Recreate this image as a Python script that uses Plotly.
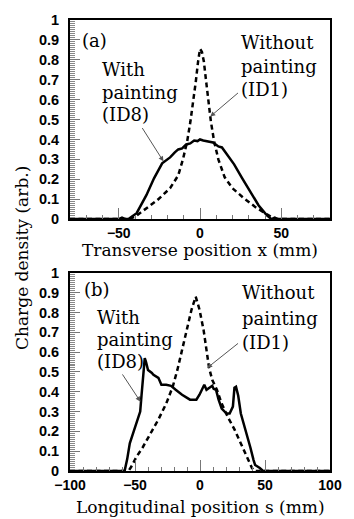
import plotly.graph_objects as go
from plotly.subplots import make_subplots

# Panel (a): transverse charge density profiles
xa_id1 = [-80, -44, -40, -33, -26.3, -18.4, -13.4, -10.5, -7.9, -5.9, -4.1, -2.6, -1.2, 0, 1.2,
          2.4, 3.8, 5.3, 6.7, 8.7, 11.3, 15.2, 20, 27, 35, 42, 46, 80]
ya_id1 = [0, 0, 0.012, 0.055, 0.095, 0.155, 0.22, 0.30, 0.39, 0.49, 0.59, 0.69, 0.79, 0.855, 0.84,
          0.79, 0.69, 0.59, 0.49, 0.39, 0.30, 0.21, 0.155, 0.105, 0.055, 0.02, 0, 0]

xa_id8 = [-80, -50, -48, -46, -44, -39, -33, -28.3, -23.3, -20.5, -18.4, -15.5, -13.4, -11, -8.5,
          -6, -3.6, -1.5, 0, 2, 5.3, 8, 11.3, 13.5, 16.2, 21, 26, 31, 36, 41, 44, 46, 48, 80]
ya_id8 = [0, 0, 0.008, 0, 0, 0.03, 0.12, 0.205, 0.28, 0.295, 0.31, 0.335, 0.35, 0.355, 0.375,
          0.38, 0.395, 0.392, 0.40, 0.395, 0.39, 0.385, 0.365, 0.36, 0.33, 0.275, 0.205, 0.14, 0.07,
          0.02, 0, 0.008, 0, 0]

# Panel (b): longitudinal charge density profiles
xb_id1 = [-100, -56, -54.5, -53, -49, -44, -38, -32, -26, -21, -17.4, -13.8, -10, -6.5, -3.3, -0.4,
          2.8, 5.3, 7, 9.4, 13, 16.7, 21.6, 26.5, 31.4, 36, 40, 42, 100]
yb_id1 = [0, 0, 0.005, 0.02, 0.07, 0.12, 0.19, 0.26, 0.34, 0.425, 0.51, 0.61, 0.71, 0.815, 0.88,
          0.815, 0.71, 0.61, 0.52, 0.46, 0.41, 0.34, 0.27, 0.21, 0.14, 0.07, 0.015, 0, 0]

xb_id8 = [-100, -58, -56, -54, -51, -48, -46, -45, -44, -42.5, -41.5, -40, -37, -35.8, -32, -29.7,
          -26, -22.3, -18.7, -13.8, -7.7, -2.8, -0.4, 3.3, 5, 7, 9.4, 10.5, 12.3, 14.3, 16.7, 20.4,
          22.8, 25.3, 26.5, 27.7, 29.4, 31.4, 35, 38.7, 41.2, 42.4, 46, 48.5, 100]
yb_id8 = [0, 0, 0.06, 0.14, 0.2, 0.26, 0.3, 0.38, 0.47, 0.57, 0.55, 0.51, 0.495, 0.485, 0.47, 0.435,
          0.435, 0.43, 0.41, 0.385, 0.36, 0.36, 0.385, 0.435, 0.41, 0.42, 0.43, 0.415, 0.41, 0.36,
          0.315, 0.29, 0.29, 0.325, 0.42, 0.425, 0.38, 0.29, 0.21, 0.12, 0.055, 0.03, 0.015, 0, 0]

SERIF = "DejaVu Serif"
SANS = "Liberation Sans"

fig = make_subplots(rows=2, cols=1, vertical_spacing=0.119)

solid = dict(color="black", width=2.5)
dashed = dict(color="black", width=2.5, dash="5px,3.5px")

fig.add_trace(go.Scatter(x=xa_id1, y=ya_id1, mode="lines", line=dashed), row=1, col=1)
fig.add_trace(go.Scatter(x=xa_id8, y=ya_id8, mode="lines", line=solid), row=1, col=1)
fig.add_trace(go.Scatter(x=xb_id1, y=yb_id1, mode="lines", line=dashed), row=2, col=1)
fig.add_trace(go.Scatter(x=xb_id8, y=yb_id8, mode="lines", line=solid), row=2, col=1)

common_x = dict(showgrid=False, zeroline=False, showline=True, linecolor="black", linewidth=2,
                mirror=True, ticks="inside", ticklen=11, tickcolor="#777", tickwidth=1,
                tickfont=dict(family=SANS, size=14, weight="bold", color="black"),
                minor=dict(dtick=10, ticks="inside", ticklen=4, tickcolor="#777", tickwidth=1))
common_y = dict(showgrid=False, zeroline=False, showline=True, linecolor="black", linewidth=2,
                mirror=True, ticks="inside", ticklen=10, tickcolor="#777", tickwidth=1,
                range=[0, 1], tickvals=[0, 0.1, 0.2, 0.3, 0.4, 0.5, 0.6, 0.7, 0.8, 0.9, 1],
                ticktext=["0", "0.1", "0.2", "0.3", "0.4", "0.5", "0.6", "0.7", "0.8", "0.9", "1"],
                ticklabelstandoff=6,
                tickfont=dict(family=SANS, size=14.5, weight="bold", color="black"),
                minor=dict(dtick=0.01, ticks="inside", ticklen=5, tickcolor="#888", tickwidth=1))

fig.update_xaxes(range=[-80, 80], tickvals=[-50, 0, 50], **common_x, row=1, col=1)
fig.update_xaxes(range=[-100, 100], tickvals=[-100, -50, 0, 50, 100], **common_x, row=2, col=1)
fig.update_yaxes(**common_y, row=1, col=1)
fig.update_yaxes(**common_y, row=2, col=1)

txt = dict(family=SERIF, size=17, color="black")
note = dict(family=SERIF, size=18, color="black")


def label(text, x, y, xref, yref):
    fig.add_annotation(text=text, x=x, y=y, xref=xref, yref=yref, showarrow=False,
                       xanchor="left", yanchor="middle", font=note)


def arrow(x, y, ax, ay, xref, yref):
    fig.add_annotation(text="", x=x, y=y, ax=ax, ay=ay, xref=xref, yref=yref,
                       axref=xref, ayref=yref, showarrow=True, arrowhead=2,
                       arrowsize=1, arrowwidth=1, arrowcolor="#555")


# panel (a) labels
label("(a)", -74, 0.895, "x", "y")
for t, yy in [("With", 0.75), ("painting", 0.635), ("(ID8)", 0.525)]:
    label(t, -61.6, yy, "x", "y")
for t, yy in [("Without", 0.885), ("painting", 0.765), ("(ID1)", 0.65)]:
    label(t, 24.3, yy, "x", "y")
arrow(-22.5, 0.29, -36.1, 0.465, "x", "y")
arrow(6.3, 0.515, 24.3, 0.64, "x", "y")

# panel (b) labels
label("(b)", -90.5, 0.915, "x2", "y2")
for t, yy in [("With", 0.775), ("painting", 0.665), ("(ID8)", 0.555)]:
    label(t, -81, yy, "x2", "y2")
for t, yy in [("Without", 0.9), ("painting", 0.77), ("(ID1)", 0.65)]:
    label(t, 30.4, yy, "x2", "y2")
arrow(-45.8, 0.35, -60.4, 0.495, "x2", "y2")
arrow(5.5, 0.52, 30.4, 0.65, "x2", "y2")

W, H = 354, 519
ML, MR, MT, MB = 70, 13, 18, 48
PH = H - MT - MB


def py_to_paper(py):
    return (H - MB - py) / PH


# axis titles, placed by pixel row
fig.add_annotation(text="Transverse position x (mm)", x=0.5, y=py_to_paper(249),
                   xref="x domain", yref="paper", showarrow=False, font=txt, yanchor="middle")
fig.add_annotation(text="Longitudinal position s (mm)", x=0.5, y=py_to_paper(507),
                   xref="x2 domain", yref="paper", showarrow=False, font=txt, yanchor="middle")
fig.add_annotation(text="Charge density (arb.)", x=(20 - ML) / (W - ML - MR), y=py_to_paper(257),
                   xref="paper", yref="paper", showarrow=False, font=txt, textangle=-90,
                   xanchor="center", yanchor="middle")

fig.update_layout(width=W, height=H, margin=dict(l=ML, r=MR, t=MT, b=MB),
                  plot_bgcolor="white", paper_bgcolor="white", showlegend=False)
fig.update_yaxes(domain=[py_to_paper(218), 1.0], row=1, col=1)
fig.update_yaxes(domain=[0.0, py_to_paper(272)], row=2, col=1)

fig.write_html("out.html")
